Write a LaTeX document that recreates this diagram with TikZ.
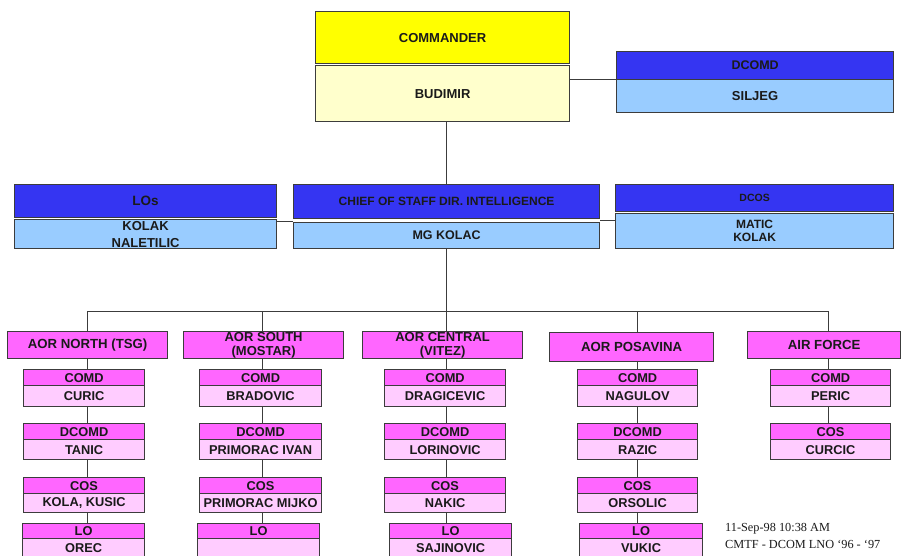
\documentclass[tikz,border=0pt]{standalone}
\usepackage{fontspec}
\setmainfont{Liberation Sans}
\newfontfamily\ftr{Liberation Serif}
\definecolor{yel}{HTML}{FFFF00}
\definecolor{lyel}{HTML}{FFFFCC}
\definecolor{dblue}{HTML}{3535F2}
\definecolor{lblue}{HTML}{99CCFF}
\definecolor{mag}{HTML}{FF66FF}
\definecolor{pinkc}{HTML}{FFCCFF}
\definecolor{bord}{HTML}{3C3C3C}
\definecolor{txt}{HTML}{1A1A1A}
\newcommand\ob[7]{\node[#6, minimum width=#4pt, minimum height=#5pt] (#1) at (#2,#3) {#7};}
\begin{document}
\begin{tikzpicture}[x=1pt,y=-1pt,
  bx/.style={draw=bord, line width=1.2pt, inner sep=0pt, anchor=north west, align=center,
             text=txt, font=\bfseries\fontsize{12.8}{14}\selectfont},
  yelbox/.style={bx, fill=yel, font=\bfseries\fontsize{13}{15}\selectfont},
  lyelbox/.style={bx, fill=lyel, font=\bfseries\fontsize{13}{15}\selectfont},
  dbbox/.style={bx, fill=dblue, font=\bfseries\fontsize{12.5}{14}\selectfont},
  lbbox/.style={bx, fill=lblue, font=\bfseries\fontsize{12.5}{14}\selectfont},
  aorbox/.style={bx, fill=mag, font=\bfseries\fontsize{13.2}{15}\selectfont},
  hdr/.style={bx, fill=mag},
  nm/.style={bx, fill=pinkc},
  conn/.style={draw=bord, line width=1pt}]
\useasboundingbox (0,0) rectangle (902,555);
\fill[white] (0,0) rectangle (902,555);

% top
\ob{cmdr}{315}{11}{254}{52}{yelbox}{COMMANDER}
\ob{bud}{315}{65}{254}{56}{lyelbox}{BUDIMIR}
\ob{dcomdT}{616}{51}{277}{28}{dbbox}{DCOMD}
\ob{dcomdN}{616}{79}{277}{33}{lbbox,font=\bfseries\fontsize{13}{15}\selectfont}{SILJEG}

% middle row
\ob{losT}{14}{184}{262}{33}{dbbox,font=\bfseries\fontsize{13.5}{15}\selectfont}{LOs}
\ob{losN}{14}{219}{262}{29}{lbbox,font=\bfseries\fontsize{13}{17}\selectfont}{KOLAK\\NALETILIC}
\ob{cosT}{293}{184}{306}{34}{dbbox,font=\bfseries\fontsize{12}{14}\selectfont}{CHIEF OF STAFF DIR. INTELLIGENCE}
\ob{cosN}{293}{222}{306}{26}{lbbox}{MG KOLAC}
\ob{dcosT}{615}{184}{278}{27}{dbbox,font=\bfseries\fontsize{10.5}{12}\selectfont}{DCOS}
\ob{dcosN}{615}{213}{278}{35}{lbbox,font=\bfseries\fontsize{12}{13.5}\selectfont}{MATIC\\KOLAK}

% AOR row
\ob{aorN}{7}{331}{160}{27}{aorbox}{AOR NORTH (TSG)}
\ob{aorS}{183}{331}{160}{27}{aorbox,font=\bfseries\fontsize{13}{14.5}\selectfont}{AOR SOUTH\\(MOSTAR)}
\ob{aorC}{362}{331}{160}{27}{aorbox,font=\bfseries\fontsize{13}{14.5}\selectfont}{AOR CENTRAL\\(VITEZ)}
\ob{aorP}{549}{332}{164}{29}{aorbox}{AOR POSAVINA}
\ob{aorA}{747}{331}{153}{27}{aorbox}{AIR FORCE}

% North column
\ob{nCt}{23}{369}{121}{16}{hdr}{COMD}
\ob{nCn}{23}{385}{121}{21}{nm}{CURIC}
\ob{nDt}{23}{423}{121}{16}{hdr}{DCOMD}
\ob{nDn}{23}{439}{121}{20}{nm}{TANIC}
\ob{nSt}{23}{477}{121}{16}{hdr}{COS}
\ob{nSn}{23}{493}{121}{19}{nm}{KOLA, KUSIC}
\ob{nLt}{22}{523}{122}{15}{hdr}{LO}
\ob{nLn}{22}{538}{122}{18}{nm}{OREC}

% South column
\ob{sCt}{199}{369}{122}{16}{hdr}{COMD}
\ob{sCn}{199}{385}{122}{21}{nm}{BRADOVIC}
\ob{sDt}{199}{423}{122}{16}{hdr}{DCOMD}
\ob{sDn}{199}{439}{122}{20}{nm}{PRIMORAC IVAN}
\ob{sSt}{199}{477}{122}{16}{hdr}{COS}
\ob{sSn}{199}{493}{122}{19}{nm}{PRIMORAC MIJKO}
\ob{sLt}{197}{523}{122}{15}{hdr}{LO}
\ob{sLn}{197}{538}{122}{18}{nm}{}

% Central column
\ob{cCt}{384}{369}{121}{16}{hdr}{COMD}
\ob{cCn}{384}{385}{121}{21}{nm}{DRAGICEVIC}
\ob{cDt}{384}{423}{121}{16}{hdr}{DCOMD}
\ob{cDn}{384}{439}{121}{20}{nm}{LORINOVIC}
\ob{cSt}{384}{477}{121}{16}{hdr}{COS}
\ob{cSn}{384}{493}{121}{19}{nm}{NAKIC}
\ob{cLt}{389}{523}{122}{15}{hdr}{LO}
\ob{cLn}{389}{538}{122}{18}{nm}{SAJINOVIC}

% Posavina column
\ob{pCt}{577}{369}{120}{16}{hdr}{COMD}
\ob{pCn}{577}{385}{120}{21}{nm}{NAGULOV}
\ob{pDt}{577}{423}{120}{16}{hdr}{DCOMD}
\ob{pDn}{577}{439}{120}{20}{nm}{RAZIC}
\ob{pSt}{577}{477}{120}{16}{hdr}{COS}
\ob{pSn}{577}{493}{120}{19}{nm}{ORSOLIC}
\ob{pLt}{579}{523}{123}{15}{hdr}{LO}
\ob{pLn}{579}{538}{123}{18}{nm}{VUKIC}

% Air force column
\ob{aCt}{770}{369}{120}{16}{hdr}{COMD}
\ob{aCn}{770}{385}{120}{21}{nm}{PERIC}
\ob{aSt}{770}{423}{120}{16}{hdr}{COS}
\ob{aSn}{770}{439}{120}{20}{nm}{CURCIC}

% footer
\node[anchor=north west, inner sep=0pt, align=left, text=txt,
      font=\ftr\fontsize{12.3}{17}\selectfont] (foot) at (725,523)
  {11-Sep-98 10:38 AM\\CMTF - DCOM LNO ‘96 - ‘97};

% connectors
\coordinate (tr) at (446,0);
\coordinate (dN) at (87,311);
\coordinate (dS) at (262,311);
\coordinate (dC) at (446,311);
\coordinate (dP) at (637,311);
\coordinate (dA) at (828,311);
\coordinate (m1) at (0,221);
\coordinate (m2) at (0,220);

\draw[conn] (bud.east |- dcomdN.north west) -- (dcomdN.north west);
\draw[conn] (bud.south -| tr) -- (cosT.north -| tr);
\draw[conn] (losN.east |- m1) -- (cosN.west |- m1);
\draw[conn] (cosT.east |- m2) -- (dcosN.west |- m2);
\draw[conn] (cosN.south -| tr) -- (dC);
\draw[conn] (dN) -- (dA);

\foreach \d/\a/\c in {dN/aorN/n, dS/aorS/s, dC/aorC/c, dP/aorP/p} {
  \draw[conn] (\d) -- (\d |- \a.north);
  \draw[conn] (\a.south -| \d) -- (\c Ct.north -| \d);
  \draw[conn] (\c Cn.south -| \d) -- (\c Dt.north -| \d);
  \draw[conn] (\c Dn.south -| \d) -- (\c St.north -| \d);
  \draw[conn] (\c Sn.south -| \d) -- (\c Lt.north -| \d);
}
\draw[conn] (dA) -- (dA |- aorA.north);
\draw[conn] (aorA.south -| dA) -- (aCt.north -| dA);
\draw[conn] (aCn.south -| dA) -- (aSt.north -| dA);
\end{tikzpicture}
\end{document}
